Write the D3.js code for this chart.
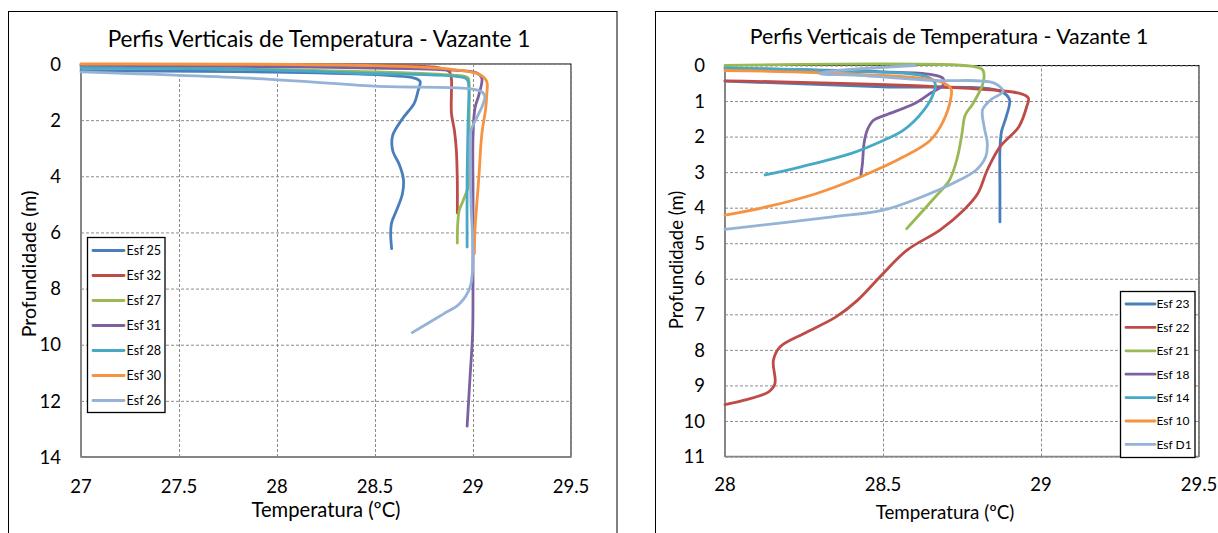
<!DOCTYPE html>
<html>
<head>
<meta charset="utf-8">
<script src="https://cdn.jsdelivr.net/npm/d3@7"></script>
<style>
  body { margin: 0; background: #fff; }
  svg { display: block; }
  text { font-family: Lato, "Open Sans", sans-serif; fill: #000; }
</style>
</head>
<body>
<svg id="fig" width="1218" height="533"></svg>
<script>
// ---- labels ----
const chartTitle = "Perfis Verticais de Temperatura - Vazante 1";
const xAxisTitle = "Temperatura (ºC)";
const yAxisTitle = "Profundidade (m)";

// ---- left panel: ticks, names, profiles [temperature, depth] ----
const leftXTicks = [27, 27.5, 28, 28.5, 29, 29.5];
const leftYTicks = [0, 2, 4, 6, 8, 10, 12, 14];
const leftNames = ["Esf 25", "Esf 32", "Esf 27", "Esf 31", "Esf 28", "Esf 30", "Esf 26"];

const esf25 = [[27,0.24],[28.7,0.5],[28.73,0.62],[28.72,0.95],[28.70,1.4],[28.64,1.95],[28.59,2.55],[28.59,3.07],[28.625,3.6],[28.645,4.1],[28.64,4.62],[28.61,5.21],[28.585,5.65],[28.58,6.05],[28.585,6.58]];
const esf32 = [[27,0.02],[28.5,0.05],[28.82,0.13],[28.88,0.28],[28.89,0.55],[28.89,1.0],[28.89,1.76],[28.905,2.36],[28.915,3.07],[28.92,4.2],[28.92,5.31]];
const esf27 = [[27,0.1],[28.9,0.4],[28.975,0.5],[28.98,0.8],[28.98,2.0],[28.98,3.5],[28.978,4.3],[28.95,4.86],[28.93,5.21],[28.922,5.7],[28.92,6.38]];
const esf31 = [[27,0.05],[28.9,0.22],[29.02,0.32],[29.045,0.5],[29.03,1.1],[29.01,1.57],[29.0,2.6],[29.0,4.5],[29.0,6.5],[29.0,8.07],[28.998,9.6],[28.985,11.14],[28.97,12.9]];
const esf28 = [[27,0.14],[27.9,0.2],[28.42,0.33],[28.96,0.5],[28.975,0.62],[28.975,2.0],[28.97,4.0],[28.97,6.52]];
const esf30 = [[27,0.0],[28.5,0.06],[28.9,0.2],[29.035,0.38],[29.07,0.62],[29.07,1.1],[29.065,1.57],[29.045,2.5],[29.03,4.02],[29.01,5.93],[29.007,6.76]];
const esf26 = [[27,0.28],[27.9,0.52],[28.5,0.79],[29.04,0.97],[29.06,1.15],[29.05,1.45],[29.02,1.9],[28.99,2.36],[28.985,3.0],[28.99,5.0],[29.0,6.88],[28.985,7.95],[28.93,8.55],[28.85,8.9],[28.69,9.57]];

// ---- right panel ----
const rightXTicks = [28, 28.5, 29, 29.5];
const rightYTicks = [0, 1, 2, 3, 4, 5, 6, 7, 8, 9, 10, 11];
const rightNames = ["Esf 23", "Esf 22", "Esf 21", "Esf 18", "Esf 14", "Esf 10", "Esf D1"];

const esf23 = [[28,0.44],[28.5,0.6],[28.87,0.72],[28.9,0.95],[28.89,1.44],[28.875,1.86],[28.87,2.38],[28.87,3.4],[28.87,4.4]];
const esf22 = [[28,0.43],[28.93,0.78],[28.96,0.92],[28.955,1.15],[28.93,1.72],[28.87,2.29],[28.83,2.94],[28.80,3.6],[28.755,4.07],[28.68,4.63],[28.575,5.2],[28.49,5.95],[28.42,6.6],[28.35,7.08],[28.25,7.54],[28.174,7.92],[28.153,8.3],[28.158,8.95],[28.137,9.19],[28.058,9.42],[28.0,9.54]];
const esf21 = [[28,0.0],[28.78,0.02],[28.815,0.12],[28.82,0.3],[28.815,0.54],[28.785,1.07],[28.76,1.4],[28.75,1.91],[28.735,2.6],[28.71,3.23],[28.665,3.7],[28.575,4.59]];
const esf18 = [[28,0.08],[28.5,0.18],[28.65,0.25],[28.69,0.36],[28.69,0.55],[28.65,0.78],[28.6,1.07],[28.51,1.39],[28.47,1.54],[28.45,1.82],[28.44,2.19],[28.435,2.75],[28.43,3.08]];
const esf14 = [[28,0.07],[28.3,0.14],[28.64,0.32],[28.665,0.5],[28.66,0.78],[28.63,1.25],[28.565,1.82],[28.49,2.15],[28.40,2.47],[28.24,2.85],[28.127,3.08]];
const esf10 = [[28,0.14],[28.3,0.21],[28.68,0.45],[28.715,0.65],[28.715,0.9],[28.69,1.58],[28.65,2.1],[28.565,2.57],[28.43,3.13],[28.29,3.6],[28.13,3.98],[28.0,4.21]];
const esfD1 = [[28.6,0.0],[28.32,0.18],[28.30,0.23],[28.41,0.27],[28.66,0.42],[28.85,0.49],[28.88,0.73],[28.84,0.97],[28.815,1.25],[28.82,1.72],[28.83,2.19],[28.825,2.57],[28.795,2.94],[28.72,3.32],[28.61,3.74],[28.5,4.07],[28.34,4.26],[28.0,4.61]];

const palette = ["#4A7EBB", "#BE4B48", "#98B954", "#7D60A0", "#46AAC5", "#F69240", "#95B3D7"];

const svg = d3.select("#fig");

const panels = [
  {
    frame: [8.5, 11.5], plot: {x0: 81, x1: 571, y0: 64, y1: 457},
    xDomain: [27, 29.5], yDomain: [0, 14], xTicks: leftXTicks, yTicks: leftYTicks,
    series: [esf25, esf32, esf27, esf31, esf28, esf30, esf26], names: leftNames,
    title: {x: 319, y: 47, size: 22.6}, xt: {x: 326, y: 517, size: 20.2}, yt: {x: 36, y: 264, size: 19.6},
    tickSize: 18.5, tickBase: 493,
    legend: {x0: 87.5, y0: 237.5, w: 77.5, h: 175, first: 250.5, step: 25, l0: 93, l1: 124, tx: 126.5, size: 12.6}
  },
  {
    frame: [655.5, 11.5], plot: {x0: 725, x1: 1199, y0: 65.5, y1: 456.5},
    xDomain: [28, 29.5], yDomain: [0, 11], xTicks: rightXTicks, yTicks: rightYTicks,
    series: [esf23, esf22, esf21, esf18, esf14, esf10, esfD1], names: rightNames,
    title: {x: 949, y: 44, size: 21.3}, xt: {x: 945, y: 519, size: 18.8}, yt: {x: 683, y: 260, size: 18.5},
    tickSize: 18.5, tickBase: 491,
    legend: {x0: 1120.5, y0: 291.5, w: 74.5, h: 166, first: 304, step: 23.4, l0: 1126, l1: 1155, tx: 1156.5, size: 12}
  }
];

panels.forEach(p => {
  const g = svg.append("g");
  // chart frame (runs past the bottom/right of the view)
  g.append("rect").attr("x", p.frame[0]).attr("y", p.frame[1])
    .attr("width", 608.5).attr("height", 620)
    .attr("fill", "#fff").attr("stroke", "#000").attr("stroke-width", 1);

  const x = d3.scaleLinear().domain(p.xDomain).range([p.plot.x0, p.plot.x1]);
  const y = d3.scaleLinear().domain(p.yDomain).range([p.plot.y0, p.plot.y1]);
  const W = p.plot.x1 - p.plot.x0, H = p.plot.y1 - p.plot.y0;

  // plot area border
  g.append("rect").attr("x", p.plot.x0).attr("y", p.plot.y0).attr("width", W).attr("height", H)
    .attr("fill", "none").attr("stroke", "#000").attr("stroke-width", 1);

  // dashed grid
  const gx = g.append("g").attr("transform", `translate(0,${p.plot.y1})`)
    .call(d3.axisBottom(x).tickValues(p.xTicks).tickSize(-H).tickFormat(""));
  const gy = g.append("g").attr("transform", `translate(${p.plot.x0},0)`)
    .call(d3.axisLeft(y).tickValues(p.yTicks).tickSize(-W).tickFormat(""));
  [gx, gy].forEach(a => {
    a.select(".domain").remove();
    a.selectAll(".tick line").attr("stroke", "#8c8c8c").attr("stroke-width", 1)
      .attr("stroke-dasharray", "3,2");
  });

  // axis lines
  g.append("line").attr("x1", p.plot.x0).attr("x2", p.plot.x0).attr("y1", p.plot.y0).attr("y2", p.plot.y1)
    .attr("stroke", "#868686").attr("stroke-width", 1.75);
  g.append("line").attr("x1", p.plot.x0).attr("x2", p.plot.x1).attr("y1", p.plot.y1).attr("y2", p.plot.y1)
    .attr("stroke", "#868686").attr("stroke-width", 1.75);

  // tick labels
  g.selectAll(".xl").data(p.xTicks).join("text")
    .attr("x", d => x(d)).attr("y", p.tickBase).attr("text-anchor", "middle")
    .attr("font-size", p.tickSize).text(d => d);
  g.selectAll(".yl").data(p.yTicks).join("text")
    .attr("x", p.plot.x0 - 20).attr("y", d => y(d)).attr("dy", "0.36em").attr("text-anchor", "end")
    .attr("font-size", p.tickSize).text(d => d);

  // profiles
  const line = d3.line().x(d => x(d[0])).y(d => y(d[1])).curve(d3.curveCatmullRom.alpha(0.5));
  p.series.forEach((s, i) => {
    g.append("path").attr("d", line(s)).attr("fill", "none")
      .attr("stroke", palette[i]).attr("stroke-width", 2.8)
      .attr("stroke-linejoin", "round").attr("stroke-linecap", "round");
  });

  // titles
  g.append("text").attr("x", p.title.x).attr("y", p.title.y).attr("text-anchor", "middle")
    .attr("font-size", p.title.size).text(chartTitle);
  g.append("text").attr("x", p.xt.x).attr("y", p.xt.y).attr("text-anchor", "middle")
    .attr("font-size", p.xt.size).text(xAxisTitle);
  g.append("text").attr("transform", `translate(${p.yt.x},${p.yt.y}) rotate(-90)`)
    .attr("text-anchor", "middle").attr("font-size", p.yt.size).text(yAxisTitle);

  // legend
  const L = p.legend;
  g.append("rect").attr("x", L.x0).attr("y", L.y0).attr("width", L.w).attr("height", L.h)
    .attr("fill", "#fff").attr("stroke", "#000").attr("stroke-width", 1.3);
  const items = g.selectAll(".lg").data(p.names).join("g")
    .attr("transform", (d, i) => `translate(0,${L.first + i * L.step})`);
  items.append("line").attr("x1", L.l0).attr("x2", L.l1).attr("y1", 0).attr("y2", 0)
    .attr("stroke", (d, i) => palette[i]).attr("stroke-width", 2.8).attr("stroke-linecap", "round");
  items.append("text").attr("x", L.tx).attr("y", 0).attr("dy", "0.36em")
    .attr("font-size", L.size).text(d => d);
});
</script>
</body>
</html>
